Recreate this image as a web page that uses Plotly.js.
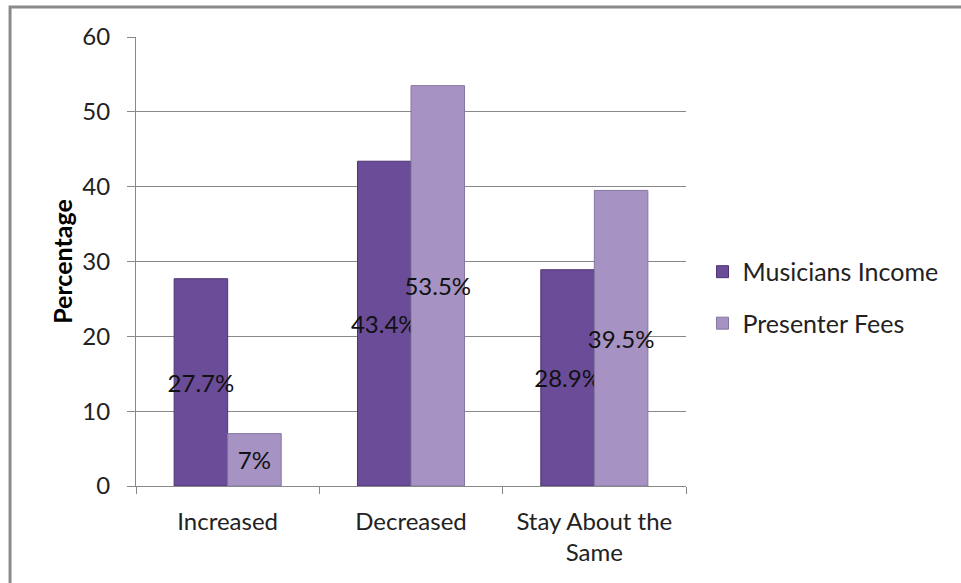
<!DOCTYPE html>
<html>
<head>
<meta charset="utf-8">
<script src="https://cdn.plot.ly/plotly-3.0.1.min.js"></script>
<style>
html,body{margin:0;padding:0;background:#fff;}
#chart{width:961px;height:583px;}
</style>
</head>
<body>
<div id="chart"></div>
<script>
const categories = ["Increased", "Decreased", "Stay About the<br>Same"];
const musiciansIncome = [27.7, 43.4, 28.9];
const presenterFees = [7, 53.5, 39.5];
const musiciansLabels = ["27.7%", "43.4%", "28.9%"];
const presenterLabels = ["7%", "53.5%", "39.5%"];
const yTicks = [0, 10, 20, 30, 40, 50, 60];

const FONT = "Lato, 'Open Sans', sans-serif";

const common = {
  type: "bar",
  x: categories,
  textposition: "inside",
  insidetextanchor: "middle",
  constraintext: "none",
  textangle: 0,
  cliponaxis: false,
  insidetextfont: {family: FONT, size: 24, color: "#111"},
  hoverinfo: "skip"
};

const traces = [
  Object.assign({}, common, {
    name: "Musicians Income",
    y: musiciansIncome,
    text: musiciansLabels,
    legendgroup: "a",
    marker: {color: "#6b4c99", line: {color: "#4d3574", width: 1}}
  }),
  Object.assign({}, common, {
    name: "Presenter Fees",
    y: presenterFees,
    text: presenterLabels,
    legendgroup: "b",
    marker: {color: "#a693c3", line: {color: "#85769f", width: 1}}
  })
];

const layout = {
  width: 961,
  height: 583,
  paper_bgcolor: "#fff",
  plot_bgcolor: "#fff",
  margin: {l: 136, r: 275, t: 37, b: 97},
  barmode: "group",
  bargap: 0.416,
  bargroupgap: 0,
  font: {family: FONT, size: 24, color: "#222"},
  xaxis: {
    type: "category",
    tickson: "boundaries",
    ticks: "outside",
    ticklen: 7,
    tickcolor: "#888",
    showline: true,
    linecolor: "#888",
    linewidth: 1,
    showgrid: false,
    ticklabelstandoff: 14,
    tickfont: {family: FONT, size: 24, color: "#222"},
    fixedrange: true
  },
  yaxis: {
    range: [0, 60],
    tickvals: yTicks,
    ticks: "outside",
    ticklen: 8,
    tickcolor: "#888",
    showline: true,
    linecolor: "#888",
    linewidth: 1,
    showgrid: true,
    gridcolor: "#888",
    gridwidth: 1,
    zeroline: false,
    ticklabelstandoff: 12,
    tickfont: {family: FONT, size: 24, color: "#222"},
    title: {text: "<b>Percentage</b>", font: {family: FONT, size: 25, color: "#000"}, standoff: 2},
    fixedrange: true
  },
  legend: {
    x: 1.03,
    xanchor: "left",
    y: 0.42,
    yanchor: "middle",
    font: {family: FONT, size: 25, color: "#222"},
    tracegroupgap: 16,
    bgcolor: "rgba(0,0,0,0)"
  },
  showlegend: true,
  shapes: [{
    type: "rect",
    xref: "paper", yref: "paper",
    x0: -0.229, x1: 1.8,
    y0: -0.5, y1: 1.0668,
    line: {color: "#8a8a8a", width: 3},
    fillcolor: "rgba(0,0,0,0)",
    layer: "below"
  }]
};

Plotly.newPlot("chart", traces, layout, {displayModeBar: false, staticPlot: true});
</script>
</body>
</html>
